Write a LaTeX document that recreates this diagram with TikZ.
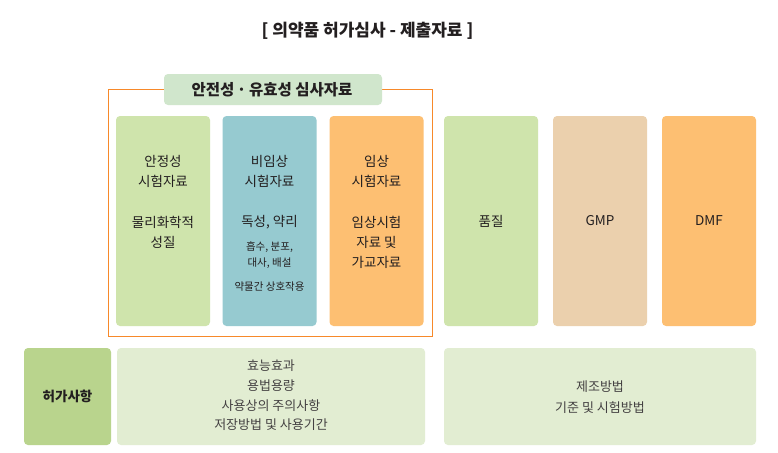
\documentclass[tikz,border=0pt]{standalone}
\usepackage{fontspec}
\setmainfont{Noto Sans CJK KR}
\usepackage{xcolor}
\definecolor{docink}{RGB}{35,31,32}
\definecolor{docgreen}{RGB}{207,228,172}
\definecolor{docblue}{RGB}{150,202,208}
\definecolor{docorange}{RGB}{253,191,114}
\definecolor{doctan}{RGB}{235,208,173}
\definecolor{docframe}{RGB}{247,137,42}
\definecolor{docheader}{RGB}{208,230,204}
\definecolor{docgreendark}{RGB}{185,212,141}
\definecolor{docgreenpale}{RGB}{226,237,210}

\begin{document}
\begin{tikzpicture}[x=1pt,y=-1pt,
  docbox/.style={rounded corners=4pt,inner sep=0pt,outer sep=0pt},
  coltext/.style={text=docink,align=center,font=\fontsize{13.5}{20}\selectfont},
  smalltext/.style={text=docink,align=center,font=\fontsize{10.5}{16.5}\selectfont},
  listtext/.style={text=docink!85,align=center,font=\fontsize{13}{19.7}\selectfont}]

  % --- background ---
  \fill[white] (0,0) rectangle (778,452);
  \useasboundingbox (0,0) rectangle (778,452);

  % --- title ---
  \node[text=docink,font=\fontsize{17}{20}\selectfont\bfseries]
    (title) at (367.5,31) {[ 의약품 허가심사 - 제출자료 ]};

  % --- safety / efficacy frame ---
  \draw[docframe,line width=1.8pt] (108.5,89.5) rectangle (432.5,336.5);
  \node[docbox,fill=docheader,minimum width=218pt,minimum height=31pt]
    (review) at (273,89.5) {};
  \node[text=docink,font=\fontsize{15.5}{18}\selectfont\bfseries]
    (reviewtxt) at (272,89.5) {안전성\,·\,유효성 심사자료};

  % --- three columns inside the frame ---
  \node[docbox,fill=docgreen,minimum width=94pt,minimum height=210pt]
    (stability) at (163,221) {};
  \node[docbox,fill=docblue,minimum width=94pt,minimum height=210pt]
    (preclinical) at (269.5,221) {};
  \node[docbox,fill=docorange,minimum width=94pt,minimum height=210pt]
    (clinical) at (376.5,221) {};

  \node[coltext] (stabilitya) at (163,171) {안정성\\시험자료};
  \node[coltext] (stabilityb) at (163,232) {물리화학적\\성질};

  \node[coltext] (preclinicala) at (269.5,171) {비임상\\시험자료};
  \node[coltext] (preclinicalb) at (269.5,222) {독성, 약리};
  \node[smalltext] (preclinicalc) at (269.5,255) {흡수, 분포,\\대사, 배설};
  \node[smalltext] (preclinicald) at (269.5,287) {약물간 상호작용};

  \node[coltext] (clinicala) at (376.5,171) {임상\\시험자료};
  \node[coltext] (clinicalb) at (376.5,242) {임상시험\\자료 및\\가교자료};

  % --- quality columns ---
  \node[docbox,fill=docgreen,minimum width=94pt,minimum height=210pt]
    (quality) at (491,221) {};
  \node[docbox,fill=doctan,minimum width=94pt,minimum height=210pt]
    (gmp) at (600,221) {};
  \node[docbox,fill=docorange,minimum width=94pt,minimum height=210pt]
    (dmf) at (709,221) {};

  \node[coltext] (qualitytxt) at (491,221) {품질};
  \node[coltext] (gmptxt) at (600,221) {GMP};
  \node[coltext] (dmftxt) at (709,221) {DMF};

  % --- licence items row ---
  \node[docbox,fill=docgreendark,minimum width=87pt,minimum height=97pt]
    (licence) at (67.5,396.5) {};
  \node[text=docink,font=\fontsize{13.5}{15}\selectfont\bfseries]
    (licencetxt) at (67.5,396.5) {허가사항};

  \node[docbox,fill=docgreenpale,minimum width=308pt,minimum height=97pt]
    (usage) at (271,396.5) {};
  \node[listtext] (usagetxt) at (271,395.5)
    {효능효과\\용법용량\\사용상의 주의사항\\저장방법 및 사용기간};

  \node[docbox,fill=docgreenpale,minimum width=312pt,minimum height=97pt]
    (method) at (600,396.5) {};
  \node[listtext,font=\fontsize{13}{21}\selectfont] (methodtxt) at (600,397.5)
    {제조방법\\기준 및 시험방법};

\end{tikzpicture}
\end{document}
